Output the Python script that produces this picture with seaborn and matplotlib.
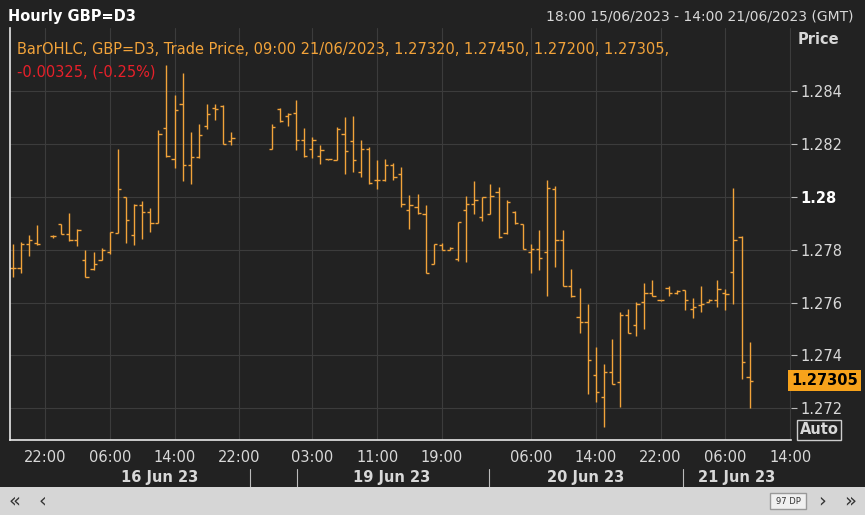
import numpy as np
import pandas as pd
import seaborn as sns
import matplotlib
matplotlib.use("Agg")
import matplotlib.pyplot as plt
from matplotlib.patches import Rectangle
from matplotlib.transforms import blended_transform_factory

# hourly slot index (0 = 22:00 15 Jun; weekend collapsed)
slots = [-4, -3, -2, -1, 1, 2, 3, 4, 5, 6, 7, 8, 9, 10, 11, 12, 13, 14, 15, 16, 17, 18, 19, 20, 21, 22, 23,
         28, 29, 30, 31, 32, 33, 34, 35, 36, 37, 38, 39, 40, 41, 42, 43, 44, 45, 46, 47, 48, 49, 50, 51,
         52, 53, 54, 55, 56, 57, 58, 59, 60, 61, 62, 63, 64, 65, 66, 67, 68, 69, 70, 71, 72, 73, 74, 75,
         76, 77, 78, 79, 80, 81, 82, 83, 84, 85, 86, 87]
opens = [1.27732, 1.27732, 1.27823, 1.27826, 1.27851, 1.27899, 1.27861, 1.27836, 1.27763, 1.27729, 1.27760,
         1.27792, 1.27864, 1.28000, 1.27855, 1.27968, 1.27943, 1.27902, 1.28263, 1.28145, 1.28354, 1.28120,
         1.28152, 1.28268, 1.28338, 1.28343, 1.28212,
         1.28183, 1.28335, 1.28306, 1.28318, 1.28215, 1.28183, 1.28154, 1.28143, 1.28141, 1.28240, 1.28212,
         1.28095, 1.28182, 1.28063, 1.28063, 1.28120, 1.28088, 1.27949, 1.27962, 1.27937, 1.27747, 1.27817,
         1.27801, 1.27766, 1.27952, 1.27975, 1.27924, 1.27937, 1.28019, 1.27864, 1.27943, 1.27899, 1.27792,
         1.27804, 1.27792, 1.28032, 1.27838, 1.27665, 1.27545, 1.27527, 1.27325, 1.27242, 1.27337, 1.27299,
         1.27552, 1.27514, 1.27602, 1.27636, 1.27609, 1.27657, 1.27636, 1.27649, 1.27577, 1.27590, 1.27602,
         1.27609, 1.27636, 1.27716, 1.27848, 1.27320]
highs = [1.27823, 1.27830, 1.27855, 1.27893, 1.27855, 1.27899, 1.27941, 1.27878, 1.27801, 1.27792, 1.27808,
         1.27867, 1.28181, 1.28000, 1.27972, 1.27984, 1.27958, 1.28253, 1.28499, 1.28385, 1.28470, 1.28246,
         1.28278, 1.28351, 1.28354, 1.28347, 1.28246,
         1.28275, 1.28338, 1.28318, 1.28366, 1.28263, 1.28227, 1.28196, 1.28145, 1.28265, 1.28303, 1.28307,
         1.28215, 1.28189, 1.28139, 1.28145, 1.28129, 1.28114, 1.28006, 1.28013, 1.27968, 1.27823, 1.27826,
         1.27811, 1.27905, 1.28003, 1.28059, 1.28000, 1.28051, 1.28038, 1.27987, 1.27946, 1.27899, 1.27823,
         1.27874, 1.28066, 1.28040, 1.27874, 1.27729, 1.27657, 1.27596, 1.27432, 1.27369, 1.27463, 1.27564,
         1.27577, 1.27602, 1.27674, 1.27684, 1.27611, 1.27665, 1.27649, 1.27649, 1.27619, 1.27665, 1.27615,
         1.27684, 1.27653, 1.28035, 1.27851, 1.27450]
lows = [1.27699, 1.27712, 1.27777, 1.27817, 1.27846, 1.27861, 1.27833, 1.27813, 1.27699, 1.27725, 1.27760,
        1.27785, 1.27864, 1.27827, 1.27817, 1.27842, 1.27867, 1.27902, 1.28152, 1.28111, 1.28059, 1.28051,
        1.28149, 1.28259, 1.28293, 1.28202, 1.28198,
        1.28181, 1.28284, 1.28268, 1.28179, 1.28152, 1.28149, 1.28124, 1.28139, 1.28141, 1.28088, 1.28095,
        1.28076, 1.28051, 1.28032, 1.28061, 1.28063, 1.27962, 1.27880, 1.27937, 1.27712, 1.27747, 1.27798,
        1.27801, 1.27758, 1.27754, 1.27937, 1.27908, 1.27937, 1.27846, 1.27859, 1.27899, 1.27804, 1.27712,
        1.27722, 1.27624, 1.27735, 1.27665, 1.27621, 1.27485, 1.27255, 1.27223, 1.27131, 1.27293, 1.27205,
        1.27485, 1.27472, 1.27501, 1.27624, 1.27606, 1.27624, 1.27634, 1.27573, 1.27543, 1.27564, 1.27602,
        1.27583, 1.27573, 1.27596, 1.27312, 1.27200]
closes = [1.27732, 1.27823, 1.27836, 1.27823, 1.27851, 1.27861, 1.27836, 1.27874, 1.27699, 1.27747, 1.27798,
          1.27867, 1.28032, 1.27912, 1.27968, 1.27943, 1.27902, 1.28240, 1.28154, 1.28328, 1.28120, 1.28152,
          1.28234, 1.28316, 1.28335, 1.28202, 1.28225,
          1.28265, 1.28288, 1.28316, 1.28217, 1.28154, 1.28215, 1.28177, 1.28143, 1.28259, 1.28174, 1.28141,
          1.28182, 1.28053, 1.28066, 1.28120, 1.28076, 1.27975, 1.27968, 1.27939, 1.27712, 1.27821, 1.27801,
          1.27808, 1.27905, 1.27972, 1.27990, 1.28000, 1.28004, 1.27848, 1.27981, 1.27902, 1.27804, 1.27804,
          1.27770, 1.28035, 1.27838, 1.27665, 1.27624, 1.27527, 1.27384, 1.27261, 1.27337, 1.27293, 1.27552,
          1.27485, 1.27596, 1.27636, 1.27624, 1.27609, 1.27636, 1.27646, 1.27609, 1.27583, 1.27596, 1.27609,
          1.27653, 1.27634, 1.27836, 1.27375, 1.27305]

xtick_slots = [0, 8, 16, 24, 33, 41, 49, 60, 68, 76, 84, 92]
xtick_labels = ["22:00", "06:00", "14:00", "22:00", "03:00", "11:00", "19:00",
                "06:00", "14:00", "22:00", "06:00", "14:00"]
day_labels = ["16 Jun 23", "19 Jun 23", "20 Jun 23", "21 Jun 23"]
day_pos = [14.2, 42.8, 66.7, 85.4]
day_seps = [25.3, 31.1, 54.8, 78.8]
yticks = [1.272, 1.274, 1.276, 1.278, 1.28, 1.282, 1.284]
ytick_labels = ["1.272", "1.274", "1.276", "1.278", "1.28", "1.282", "1.284"]

df = pd.DataFrame({"slot": slots, "open": opens, "high": highs, "low": lows, "close": closes})

sns.set_style("dark")
plt.rcParams['font.family'] = ['DejaVu Sans']
BG = "#222222"
ORANGE = "#f2a33a"
TXT = "#d8d8d8"

fig = plt.figure(figsize=(8.65, 5.15), dpi=100, facecolor=BG)
ax = fig.add_axes([10/865, 1-440/515, 781/865, 412/515])
ax.set_facecolor(BG)

ax.vlines(df["slot"], df["low"], df["high"], color=ORANGE, lw=1.0)
ax.hlines(df["open"], df["slot"] - 0.4, df["slot"], color=ORANGE, lw=1.0)
ax.hlines(df["close"], df["slot"], df["slot"] + 0.4, color=ORANGE, lw=1.0)

ax.set_xlim(-4.32, 92.1)
ax.set_ylim(1.27080, 1.28640)
ax.set_xticks(xtick_slots)
ax.set_xticklabels(xtick_labels, color=TXT, fontsize=10.5)
ax.yaxis.tick_right()
ax.set_yticks(yticks)
ax.set_yticklabels(ytick_labels, color=TXT, fontsize=10.5)
for lab in ax.get_yticklabels():
    if lab.get_text() == "1.28":
        lab.set_fontweight("bold")
        lab.set_color("white")
ax.tick_params(axis="both", length=4, color="#bbbbbb", pad=3)
ax.grid(True, color="#3c3c3c", lw=0.8)
for s in ["top", "right"]:
    ax.spines[s].set_visible(False)
for s in ["left", "bottom"]:
    ax.spines[s].set_visible(True)
    ax.spines[s].set_color("#e8e8e8")
    ax.spines[s].set_linewidth(1.2)

tr = blended_transform_factory(ax.transData, ax.transAxes)
for p, t in zip(day_pos, day_labels):
    ax.text(p, -0.09, t, transform=tr, ha="center", va="center", color=TXT,
            fontsize=10.5, fontweight="bold", clip_on=False)
for p in day_seps:
    ax.plot([p, p], [-0.07, -0.115], transform=tr, color="#bbbbbb", lw=0.8, clip_on=False)

# legend text
ax.text(0.009, 0.965, "BarOHLC, GBP=D3, Trade Price, 09:00 21/06/2023, 1.27320, 1.27450, 1.27200, 1.27305,",
        transform=ax.transAxes, color=ORANGE, fontsize=10.5, va="top")
ax.text(0.009, 0.912, "-0.00325, (-0.25%)", transform=ax.transAxes, color="#e8202a", fontsize=10.5, va="top")

# header
fig.text(8/865, 1-16/515, "Hourly GBP=D3", color="white", fontsize=10.5, fontweight="bold", va="center")
fig.text(853/865, 1-16/515, "18:00 15/06/2023 - 14:00 21/06/2023 (GMT)", color=TXT, fontsize=10,
         ha="right", va="center")
fig.text(818/865, 1-40/515, "Price", color=TXT, fontsize=10.5, fontweight="bold", va="center", ha="center")

# current price tag
ax.text(1.0, 1.27305, "1.27305", transform=blended_transform_factory(ax.transAxes, ax.transData),
        ha="left", va="center", fontsize=10.5, fontweight="bold", color="black", clip_on=False,
        bbox=dict(boxstyle="square,pad=0.2", fc="#f7a21b", ec="none"))
fig.text(819/865, 1-430/515, "Auto", color=TXT, fontsize=10.5, fontweight="bold", va="center", ha="center",
         bbox=dict(boxstyle="square,pad=0.15", fc=BG, ec="#cccccc", lw=1))

# scrollbar
fig.patches.append(Rectangle((0, 0), 1, 28/515, transform=fig.transFigure, fc="#d6d6d6", ec="none"))
fig.patches.append(Rectangle((770/865, 6/515), 36/865, 16/515, transform=fig.transFigure, fc="#f0f0f0", ec="#999999"))
for xx, t in [(15, "«"), (42, "‹"), (822, "›"), (850, "»")]:
    fig.text(xx/865, 14/515, t, color="#333333", fontsize=14, ha="center", va="center")
fig.text(788/865, 14/515, "97 DP", color="#333333", fontsize=6, ha="center", va="center")

fig.savefig("out.png", dpi=100, facecolor=BG)
